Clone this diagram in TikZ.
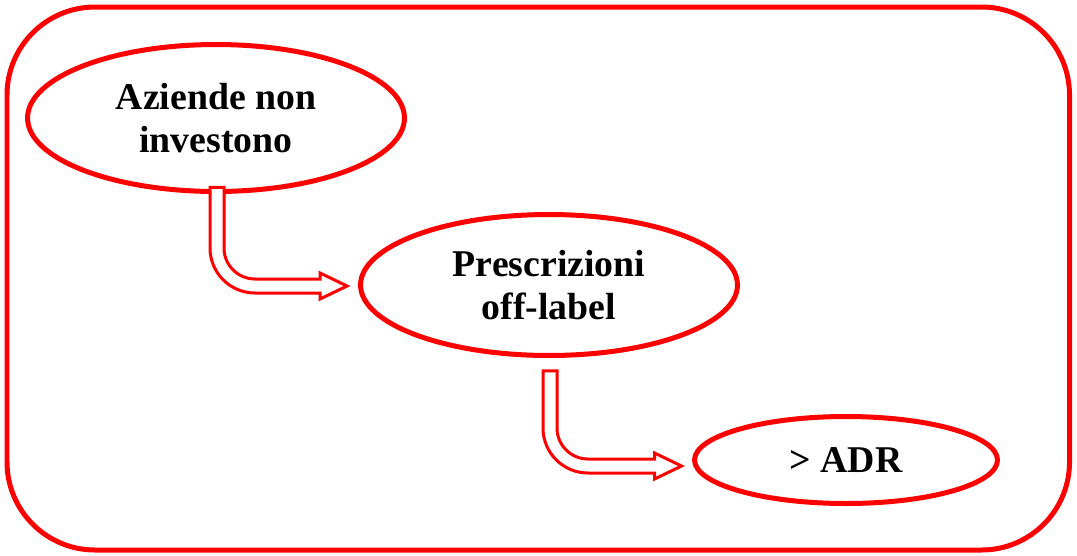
\documentclass[tikz,border=0pt]{standalone}
\usepackage{fontspec}
\setmainfont{Liberation Serif}
\usetikzlibrary{positioning,shapes.geometric,calc}

\newcommand{\shafthw}{0.14cm}
\newcommand{\bendrad}{0.76cm}
\newcommand{\headlen}{0.54cm}
\newcommand{\headhw}{0.26cm}

\begin{document}
\begin{tikzpicture}[x=0.02cm, y=0.02cm,
  frame/.style={draw=red, line width=0.1cm, rounded corners=1.76cm},
  bubble/.style={ellipse, draw=red, line width=0.1cm, outer sep=0pt, inner sep=0pt, align=center,
    font=\fontsize{21.5}{24.5}\selectfont\bfseries},
  hollow/.style={draw=red, line width=0.06cm, fill=white, line join=miter}
]
\useasboundingbox (0,0) rectangle (1077,-555);

\draw[frame] (7,-7) rectangle (1069.5,-550);

\node[bubble, minimum width=7.54cm, minimum height=2.94cm] (az) at (216,-118) {Aziende non\\investono};
\node[bubble, minimum width=7.54cm, minimum height=2.82cm] (pr) at (549,-285) {Prescrizioni\\off-label};
\node[bubble, minimum width=6.06cm, minimum height=1.74cm] (adr) at (846,-460) {> ADR};

\coordinate (a1s) at ($(az.south)+(1,4)$);
\coordinate (a1t) at ($(pr.west)+(-13.5,-1)$);
\coordinate (a2s) at ($(pr.south)+(1,-15.5)$);
\coordinate (a2t) at ($(adr.west)+(-13,-6)$);

% hollow bent arrows
\draw[hollow] let \p1=(a1s), \p2=(a1t) in
  ({\x1-\shafthw},\y1) -- ({\x1-\shafthw},{\y2+\bendrad})
  arc[start angle=180, end angle=270, radius=\bendrad+\shafthw]
  -- ({\x2-\headlen},{\y2-\shafthw}) -- ({\x2-\headlen},{\y2-\headhw}) -- (\x2,\y2)
  -- ({\x2-\headlen},{\y2+\headhw}) -- ({\x2-\headlen},{\y2+\shafthw})
  -- ({\x1+\bendrad},{\y2+\shafthw})
  arc[start angle=270, end angle=180, radius=\bendrad-\shafthw]
  -- ({\x1+\shafthw},\y1) -- cycle;
\draw[hollow] let \p1=(a2s), \p2=(a2t) in
  ({\x1-\shafthw},\y1) -- ({\x1-\shafthw},{\y2+\bendrad})
  arc[start angle=180, end angle=270, radius=\bendrad+\shafthw]
  -- ({\x2-\headlen},{\y2-\shafthw}) -- ({\x2-\headlen},{\y2-\headhw}) -- (\x2,\y2)
  -- ({\x2-\headlen},{\y2+\headhw}) -- ({\x2-\headlen},{\y2+\shafthw})
  -- ({\x1+\bendrad},{\y2+\shafthw})
  arc[start angle=270, end angle=180, radius=\bendrad-\shafthw]
  -- ({\x1+\shafthw},\y1) -- cycle;

\end{tikzpicture}
\end{document}
